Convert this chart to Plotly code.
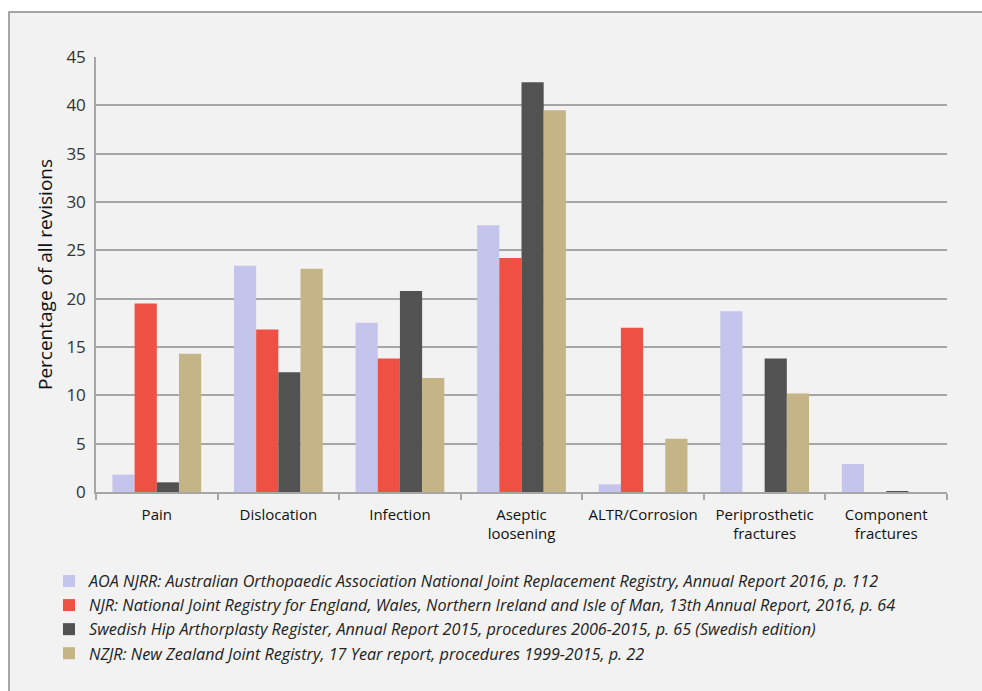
import plotly.graph_objects as go

categories = ["Pain", "Dislocation", "Infection", "Aseptic<br>loosening", "ALTR/Corrosion",
              "Periprosthetic<br>fractures", "Component<br>fractures"]
aoa = [1.8, 23.4, 17.5, 27.6, 0.8, 18.7, 2.9]
njr = [19.5, 16.8, 13.8, 24.2, 17.0, 0, 0]
swedish = [1.0, 12.4, 20.8, 42.4, 0, 13.8, 0.1]
nzjr = [14.3, 23.1, 11.8, 39.5, 5.5, 10.2, 0]

series_names = [
    "AOA NJRR: Australian Orthopaedic Association National Joint Replacement Registry, Annual Report 2016, p. 112",
    "NJR: National Joint Registry for England, Wales, Northern Ireland and Isle of Man, 13th Annual Report, 2016, p. 64",
    "Swedish Hip Arthorplasty Register, Annual Report 2015, procedures 2006-2015, p. 65 (Swedish edition)",
    "NZJR: New Zealand Joint Registry, 17 Year report, procedures 1999-2015, p. 22",
]
series_values = [aoa, njr, swedish, nzjr]
colors = ["#c5c4ec", "#ef5044", "#525252", "#c4b486"]

fig = go.Figure()
for i, (name, vals, col) in enumerate(zip(series_names, series_values, colors)):
    fig.add_trace(go.Bar(x=categories, y=vals, name=name, marker_color=col,
                         marker_line_width=0, legendgroup=f"g{i}"))

W, H = 982, 691
L, R, T, B = 96, 35, 57, 199
pw, ph = W - L - R, H - T - B

def px_x(p):
    return (p - L) / pw

def px_y(p):
    return (H - B - p) / ph

fig.update_layout(
    width=W, height=H,
    margin=dict(l=L, r=R, t=T, b=B),
    paper_bgcolor="white",
    plot_bgcolor="rgba(0,0,0,0)",
    barmode="group",
    bargap=0.27,
    bargroupgap=0,
    font=dict(family="Open Sans", color="#222"),
    showlegend=True,
    legend=dict(
        x=px_x(49), y=px_y(564), xanchor="left", yanchor="top",
        font=dict(family="Open Sans", size=16.2, color="#222", style="italic"),
        bgcolor="rgba(0,0,0,0)", tracegroupgap=0, traceorder="normal",
    ),
    xaxis=dict(
        showline=True, linecolor="#a6a6a6", linewidth=1.5,
        ticks="outside", tickson="boundaries", ticklen=6, tickcolor="#a6a6a6", tickwidth=1.5,
        tickfont=dict(family="Open Sans", size=15, color="#111"),
        tickangle=0, ticklabelstandoff=8,
        showgrid=False,
    ),
    yaxis=dict(
        range=[0, 45], dtick=5,
        showline=True, linecolor="#a6a6a6", linewidth=1.5,
        showgrid=True, gridcolor="#a6a6a6", gridwidth=1.5,
        ticks="", tickfont=dict(family="Open Sans", size=17, color="#333"),
        ticklabelstandoff=5,
        title=dict(text="Percentage of all revisions", font=dict(family="Open Sans", size=19, color="#111"),
                   standoff=9),
        zeroline=False,
    ),
    shapes=[dict(type="rect", xref="paper", yref="paper",
                 x0=px_x(9), x1=px_x(W + 10), y0=px_y(H + 10), y1=px_y(12),
                 fillcolor="#f2f2f2", line=dict(color="#8c8c8c", width=1.5), layer="below")],
)

fig.write_html("out.html", config={"displayModeBar": False},
               post_script="document.body.style.margin='0';document.body.style.padding='0';")
